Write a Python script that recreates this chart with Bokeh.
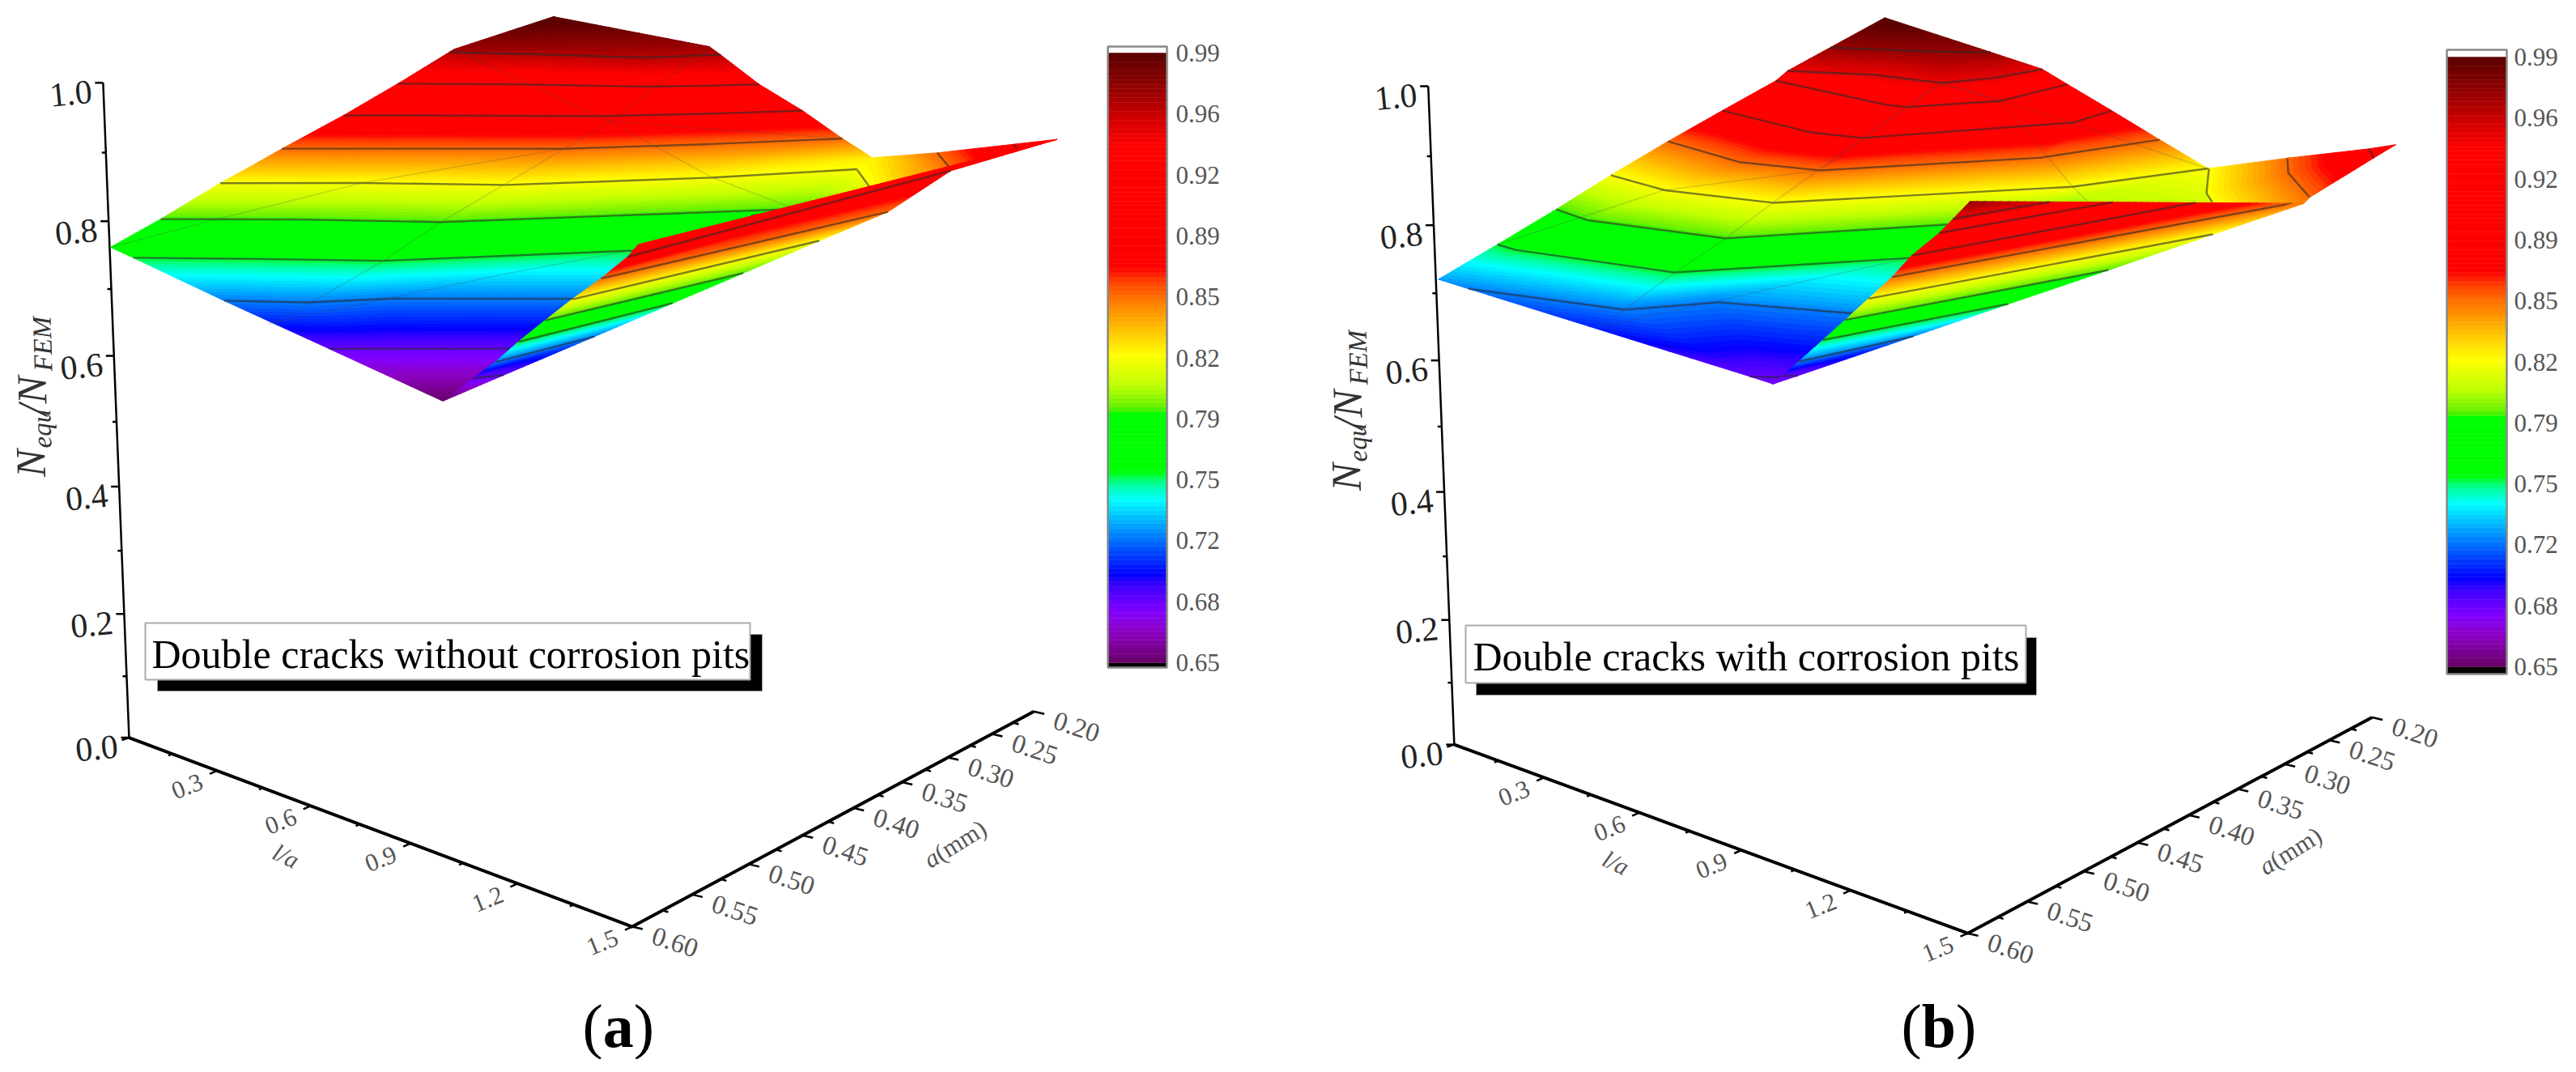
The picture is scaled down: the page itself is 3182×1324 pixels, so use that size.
import numpy as np
from bokeh.plotting import figure
from bokeh.core.properties import value
from bokeh.embed import file_html
from bokeh.resources import INLINE

# ---------- axis / legend values ----------
LA_TICKS = [0.3, 0.6, 0.9, 1.2, 1.5]
LA_MINOR = [0.15, 0.45, 0.75, 1.05, 1.35]
A_TICKS = [0.60, 0.55, 0.50, 0.45, 0.40, 0.35, 0.30, 0.25, 0.20]
A_MINOR = [0.575, 0.525, 0.475, 0.425, 0.375, 0.325, 0.275, 0.225]
Z_TICKS = [0.0, 0.2, 0.4, 0.6, 0.8, 1.0]
Z_MINOR = [0.1, 0.3, 0.5, 0.7, 0.9]
BAR_LABELS = ["0.99", "0.96", "0.92", "0.89", "0.85", "0.82", "0.79", "0.75", "0.72", "0.68", "0.65"]
TITLE_A = "Double cracks without corrosion pits"
TITLE_B = "Double cracks with corrosion pits"
CONTOURS_A = [0.685, 0.72, 0.755, 0.79, 0.82, 0.855, 0.89, 0.925, 0.96]
CONTOURS_B = [0.685, 0.72, 0.755, 0.79, 0.82, 0.855, 0.89, 0.925, 0.945, 0.97]

# ---------- panel (a) surface samples: l/a, a (mm), Nequ/NFEM ----------
AM_L = [[1.016]*5, [.692,.774,.861,.948,1.026], [.375,.516,.619,.891,1.03], [.087,.287,.507,.827,1.029],
        [.017,.257,.479,.802,1.032], [-.001,.234,.48,.964,1.078], [-.061,.174,.434,.721,.902],
        [-.068,.122,.378,.665,.863], [-.084,.163,.4,.612,.792], [-.109,.112,.349,.536,.653],
        [-.146,.083,.33,.439,.513], [-.202,.017,.228,.275,.33], [-.167,-.046,.033,.167,.264], [-.253]*5]
AM_A = [[.605]*5, [.603,.583,.563,.542,.523], [.602,.574,.536,.471,.438], [.602,.558,.512,.394,.345],
        [.603,.551,.504,.385,.325], [.561,.505,.456,.278,.241], [.5,.441,.386,.278,.189],
        [.475,.428,.37,.259,.156], [.443,.381,.322,.242,.165], [.383,.327,.271,.205,.159],
        [.323,.269,.221,.187,.158], [.258,.22,.188,.164,.138], [.263,.231,.195,.16,.128], [.135]*5]
AM_N = [[.65]*5, [.685]*5, [.72]*5, [.755]*5, [.7645]*5, [.79,.79,.79,.79,.815], [.82]*5,
        [.836,.836,.836,.836,.825], [.855]*5, [.89]*5, [.925]*5, [.96]*5, [.968]*5, [.995]*5]
AW_L = [[.908,1.101], [.859,1.101], [1.088,1.242], [1.467,1.467]]
AW_A = [[.192,.25], [.153,.25], [.173,.221], [.199,.199]]
AW_N = [[.82,.82], [.825,.82], [.855,.855], [.91,.91]]
AF_L = [[1.016,1.016],[1.079,1.106],[1.168,1.169],[1.238,1.24],[1.308,1.318],[1.362,1.366],[1.442,1.445],[1.518,1.428],[1.558,1.467]]
AF_A = [[.6041,.6041],[.6,.5843],[.6087,.5315],[.6121,.4893],[.6131,.4551],[.6097,.4032],[.6131,.3685],[.6177,.2989],[.6231,.1985]]
AF_N = [[.65,.65],[.685,.685],[.72,.72],[.755,.755],[.79,.79],[.82,.82],[.855,.855],[.89,.89],[.91,.91]]
AG_L = [[.384,-.237],[.384,.224],[.384,.4,.463,.497,.507,.523],[.384,.754,1.004],[.384,.855],[.02,.091,.174,.4],[.861,.727,.518]]
AG_A = [[.2725,.2433],[.2725,.1148],[.2725,.3217,.4516,.5091,.5688,.603],[.2725,.2898,.293],[.2725,.1888],[.6039,.5388,.4413,.3217],[.4045,.4776,.6043]]
AG_N = [[.884,.96],[.884,.963],[.884,.855,.787,.753,.717,.702],[.884,.826,.798],[.884,.866],[.765,.79,.82,.855],[.762,.741,.702]]

# ---------- panel (b) surface samples ----------
BM_L = [[1.022]*5, [.969,.986,1.003,1.018,1.029], [.121,.526,.628,.904,1.049], [.031,.505,.61,.888,1.058],
        [.009,.086,.521,.804,1.057], [.007,.158,.533,.798,1.182], [-.033,.204,.495,.88,.979],
        [-.044,.288,.501,.775,.837], [-.038,.349,.493,.725,.686], [-.032,.431,.495,.602,.558],
        [.02,.225,.441,.487,.481], [0,.107,.226,.304,.364], [-.093]*5]
BM_A = [[.608]*5, [.61,.607,.604,.601,.597], [.604,.585,.538,.512,.474], [.605,.582,.535,.509,.465],
        [.554,.558,.544,.429,.35], [.506,.518,.506,.394,.273], [.45,.466,.455,.302,.197],
        [.397,.425,.416,.298,.196], [.349,.379,.375,.247,.192], [.3,.335,.335,.279,.194],
        [.304,.282,.284,.247,.194], [.256,.245,.232,.22,.209], [.172]*5]
BM_N = [[.68]*5, [.685]*5, [.72]*5, [.7255]*5, [.755]*5, [.79,.79,.79,.79,.81], [.82]*5, [.855]*5,
        [.89]*5, [.925]*5, [.945]*5, [.97]*5, [.995]*5]
BW_L = [[.981,1.159,1.23], [1.211,1.318,1.513], [1.449,1.481,1.52], [1.559]*3]
BW_A = [[.197,.27,.292], [.205,.249,.309], [.219,.23,.245], [.239]*3]
BW_N = [[.82]*3, [.855]*3, [.89]*3, [.91]*3]
BX_L = [[1.23,1.513], [1.519,1.519]]
BX_A = [[.292,.309], [.317,.317]]
BX_N = [[.82,.855], [.85,.85]]
BF_L = [[1.025,1.025],[1.014,1.037],[1.105,1.138],[1.17,1.246],[1.242,1.352],[1.289,1.432],[1.358,1.521],[1.426,1.523],[1.501,1.561],[1.581,1.581]]
BF_A = [[.609,.609],[.598,.593],[.612,.532],[.613,.488],[.618,.438],[.615,.371],[.619,.33],[.626,.426],[.63,.514],[.634,.634]]
BF_N = [[.68,.68],[.685,.685],[.72,.72],[.755,.755],[.79,.79],[.82,.82],[.855,.855],[.89,.89],[.925,.925],[.97,.97]]
BY_L = [[1.432,1.521], [1.519,1.519]]
BY_A = [[.371,.33], [.317,.317]]
BY_N = [[.82,.855], [.85,.85]]
BG_L = [[.441,.095],[.441,.555],[.441,.468,.473,.47,.481,.536,.568],[.441,.628,.955,1.014],[.441,.806,1.16],[.101,.267,.501,.441],[.813,.572]]
BG_A = [[.284,.326],[.284,.22],[.284,.367,.449,.488,.533,.587,.615],[.284,.287,.329,.332],[.284,.277,.27],[.575,.484,.416,.284],[.432,.61]]
BG_N = [[.945,.955],[.945,.956],[.945,.886,.816,.778,.747,.722,.712],[.945,.929,.835,.814],[.945,.904,.857],[.771,.831,.855,.945],[.757,.713]]

# ---------- colour scale ----------
CMAP_V = [.65,.651,.667,.679,.6926,.6995,.725,.741,.75,.757,.7905,.7915,.805,.8215,.84,.854,.863,.870,.939,.955,.9688,.99]
CMAP_H = ["#660066","#6a006a","#8c00c0","#8000ff","#4000ff","#0000ff","#0099ff","#00ffff","#00ff99","#00ff00",
          "#00ff00","#60f000","#c0ff00","#ffff00","#ffb000","#ff7000","#ff4000","#ff0000","#ff0000","#cc0000","#990000","#5a0000"]
CMAP_RGB = np.array([[int(h[i:i+2], 16) for i in (1, 3, 5)] for h in CMAP_H], float)
N_BANDS = 136
EDGES = np.linspace(.65, .99, N_BANDS + 1)

def band_color(v):
    c = [int(round(np.interp(v, CMAP_V, CMAP_RGB[:, k]))) for k in range(3)]
    return "#%02x%02x%02x" % tuple(c)

BAND_COL = [band_color(.5 * (EDGES[i] + EDGES[i + 1])) for i in range(N_BANDS)]

# ---------- camera calibration of the drawn axes (screen pixels) ----------
CAL_A = dict(z=[(128,102),(132,272),(140,440),(147,600),(154,758),(159,910)],
             l=[(159,910),(266,952),(384,996),(507,1041),(638,1090),(779,1143)],
             a=[(779,1143),(857,1104),(926,1069),(991,1031),(1054,998),(1114,966),(1168,937),(1225,906),(1277,876)])
CAL_B = dict(z=[(1765,106),(1770,278),(1776,444),(1783,607),(1790,766),(1796,918)],
             l=[(1796,918),(1908,961),(2024,1004),(2151,1051),(2283,1099),(2429,1151)],
             a=[(2429,1151),(2509,1112),(2575,1076.5),(2638,1041),(2703,1007),(2762,974),(2821,944),(2879,914),(2929,884)])

def fit_camera(C):
    R = []
    def add(l, a, z, X, Y):
        u = [l, a, z, 1]
        X /= 1000; Y /= 1000
        R.append(u + [0, 0, 0, 0] + [-X * v for v in u])
        R.append([0, 0, 0, 0] + u + [-Y * v for v in u])
    for t, (X, Y) in zip([1, .8, .6, .4, .2, 0], C['z']): add(0, .6, t, X, Y)
    for t, (X, Y) in zip([0, .3, .6, .9, 1.2, 1.5], C['l']): add(t, .6, 0, X, Y)
    for t, (X, Y) in zip(A_TICKS, C['a']): add(1.5, t, 0, X, Y)
    return np.linalg.svd(np.array(R))[2][-1].reshape(3, 4)

def project(P, l, a, z):
    u = np.array([l, a, z, 1.0])
    q = P @ u
    return 1000 * q[0] / q[2], 1000 * q[1] / q[2]

# ---------- figure: one data unit = one picture pixel ----------
p = figure(width=3166, height=1308, x_range=(0, 3166), y_range=(1308, 0),
           toolbar_location=None, output_backend="svg", min_border=0, background_fill_color="white")
p.axis.visible = False
p.grid.visible = False
p.outline_line_color = None
SERIF = value("Liberation Serif")

def clip_band(poly, lo, hi):
    def clip(poly, lim, keep_above):
        out = []
        n = len(poly)
        for i in range(n):
            A, B = poly[i], poly[(i + 1) % n]
            ina = A[2] >= lim if keep_above else A[2] <= lim
            inb = B[2] >= lim if keep_above else B[2] <= lim
            if ina:
                out.append(A)
            if ina != inb:
                t = (lim - A[2]) / (B[2] - A[2])
                out.append((A[0] + t * (B[0] - A[0]), A[1] + t * (B[1] - A[1]), lim))
        return out
    r = clip(poly, lo, True)
    return clip(r, hi, False) if len(r) >= 3 else []

def triangles(P, L, A, N):
    pts = [[(*project(P, L[i][j], A[i][j], N[i][j]), N[i][j]) for j in range(len(L[i]))] for i in range(len(L))]
    tris = []
    for i in range(len(pts) - 1):
        for j in range(len(pts[i]) - 1):
            a, b, c, d = pts[i][j], pts[i][j + 1], pts[i + 1][j + 1], pts[i + 1][j]
            for t in ((a, b, c), (a, c, d)):
                area = abs((t[1][0]-t[0][0])*(t[2][1]-t[0][1]) - (t[2][0]-t[0][0])*(t[1][1]-t[0][1]))
                if area > 0.5:
                    tris.append(t)
    return tris

def contour_segments(tris, levels, shift):
    segx, segy = [], []
    for lv in levels:
        lim = lv + shift
        for t in tris:
            cross = []
            for i in range(3):
                A, B = t[i], t[(i + 1) % 3]
                if (A[2] >= lim) != (B[2] >= lim):
                    s = (lim - A[2]) / (B[2] - A[2])
                    cross.append((A[0] + s * (B[0] - A[0]), A[1] + s * (B[1] - A[1])))
            if len(cross) == 2 and abs(cross[0][0]-cross[1][0]) + abs(cross[0][1]-cross[1][1]) > 0.5:
                segx.append([cross[0][0], cross[1][0]])
                segy.append([cross[0][1], cross[1][1]])
    return segx, segy

def draw_sheet(P, L, A, N, levels, shift=-1e-4):
    tris = triangles(P, L, A, N)
    xs, ys, cols = [], [], []
    for t in tris:
        zs = [v[2] for v in t]
        for b in range(N_BANDS):
            lo = EDGES[b] if b > 0 else -1
            hi = EDGES[b + 1] if b < N_BANDS - 1 else 2
            if max(zs) < lo or min(zs) > hi:
                continue
            poly = clip_band(list(t), lo, hi)
            if len(poly) >= 3:
                xs.append([v[0] for v in poly]); ys.append([v[1] for v in poly]); cols.append(BAND_COL[b])
    p.patches(xs, ys, fill_color=cols, line_color=cols, line_width=1)
    sx, sy = contour_segments(tris, levels, shift)
    if sx:
        p.multi_line(sx, sy, line_color="#2a2a2a", line_alpha=0.6, line_width=2.4)

def draw_mesh(P, L, A, N):
    xs, ys = [], []
    for l, a, n in zip(L, A, N):
        q = [project(P, *v) for v in zip(l, a, n)]
        xs.append([v[0] for v in q]); ys.append([v[1] for v in q])
    p.multi_line(xs, ys, line_color="#444444", line_alpha=0.2, line_width=1.5)

def draw_axes(P):
    top = project(P, 0, .6, 1); o = project(P, 0, .6, 0); c = project(P, 1.5, .6, 0); e = project(P, 1.5, .2, 0)
    p.line([top[0], o[0]], [top[1], o[1]], line_color="black", line_width=2.5)
    p.line([o[0], c[0], e[0]], [o[1], c[1], e[1]], line_color="black", line_width=4)
    tx, ty = [], []
    def tick(q, dx, dy):
        tx.append([q[0], q[0] + dx]); ty.append([q[1], q[1] + dy])
    for v in Z_TICKS: tick(project(P, 0, .6, v), -10, 0)
    for v in Z_MINOR: tick(project(P, 0, .6, v), -5, 0)
    tick(o, -9, 3)
    for v in LA_TICKS: tick(project(P, v, .6, 0), -9, 4)
    for v in LA_MINOR: tick(project(P, v, .6, 0), -5, 2)
    for v in A_TICKS: tick(project(P, 1.5, v, 0), 13, 3)
    for v in A_MINOR: tick(project(P, 1.5, v, 0), 7, 2)
    p.multi_line(tx, ty, line_color="black", line_width=2.5)
    q = [project(P, 0, .6, v) for v in Z_TICKS]
    p.text([v[0] - 40 for v in q], [v[1] + 13 for v in q], text=["%.1f" % v for v in Z_TICKS], text_font=SERIF,
           text_font_size="42px", text_color="#222222", text_align="center", text_baseline="middle", angle=0.1)
    q = [project(P, v, .6, 0) for v in LA_TICKS]
    p.text([v[0] - 37 for v in q], [v[1] + 19 for v in q], text=["%.1f" % v for v in LA_TICKS], text_font=SERIF,
           text_font_size="31px", text_color="#555555", text_align="center", text_baseline="middle", angle=0.38)
    q = [project(P, 1.5, v, 0) for v in A_TICKS]
    p.text([v[0] + 53 for v in q], [v[1] + 19 for v in q], text=["%.2f" % v for v in A_TICKS], text_font=SERIF,
           text_font_size="33px", text_color="#555555", text_align="center", text_baseline="middle", angle=-0.32)
    q = project(P, .75, .6, 0)
    p.text([q[0] - 91], [q[1] + 39], text=["l/a"], text_font=SERIF, text_font_style="italic", text_font_size="30px",
           text_color="#555555", text_align="center", text_baseline="middle", angle=-0.45)
    q = project(P, 1.5, .4, 0)
    p.text([q[0] + 96], [q[1] + 62], text=["a"], text_font=SERIF, text_font_style="italic", text_font_size="31px",
           text_color="#555555", text_align="center", text_baseline="middle", angle=0.55)
    p.text([q[0] + 132], [q[1] + 40], text=["(mm)"], text_font=SERIF, text_font_size="31px",
           text_color="#555555", text_align="center", text_baseline="middle", angle=0.55)

def draw_ztitle(dx, dy):
    col = "#333333"; ang = 1.6
    for s, x, y, fs in [("N", 38, 589, 52), ("equ", 52, 553, 33), ("/N", 40, 513, 52), ("FEM", 53, 458, 33)]:
        p.text([x + dx], [y + dy], text=[s], text_font=SERIF, text_font_style="italic", text_font_size="%dpx" % fs,
               text_color=col, text_align="left", text_baseline="alphabetic", angle=ang)

def draw_box(title, x0, x1, y0, y1, sdx, sdy, tx, ty):
    p.quad(left=[x0 + sdx], right=[x1 + sdx], top=[y0 + sdy], bottom=[y1 + sdy], fill_color="black", line_color="#999999", line_width=1)
    p.quad(left=[x0], right=[x1], top=[y0], bottom=[y1], fill_color="white", line_color="#aaaaaa", line_width=2)
    p.text([tx], [ty], text=[title], text_font=SERIF, text_font_size="50px", text_color="black",
           text_align="left", text_baseline="middle")

def draw_bar(x0, x1, ytop, ybot, yframe0, yframe1, lx):
    ys = ybot + (EDGES - .65) / .34 * (ytop - ybot)
    p.quad(left=[x0], right=[x1], top=[ybot], bottom=[yframe1], fill_color="black", line_color=None)
    p.quad(left=[x0] * N_BANDS, right=[x1] * N_BANDS, top=list(ys[1:]), bottom=list(ys[:-1]),
           fill_color=BAND_COL, line_color=BAND_COL, line_width=0.5)
    p.quad(left=[x0], right=[x1], top=[yframe0], bottom=[yframe1], fill_color=None, line_color="#888888", line_width=2.5)
    step = (ybot - ytop) / (len(BAR_LABELS) - 1)
    p.text([lx] * len(BAR_LABELS), [ytop + i * step for i in range(len(BAR_LABELS))], text=BAR_LABELS, text_font=SERIF,
           text_font_size="31px", text_color="#555555", text_align="left", text_baseline="middle")

def draw_caption(ch, x0, y):
    fs = 76
    adv = 0.333 * fs
    ca = 0.5 * fs if ch == "a" else 0.556 * fs
    for s, x, st in [("(", x0, "normal"), (ch, x0 + adv, "bold"), (")", x0 + adv + ca, "normal")]:
        p.text([x], [y], text=[s], text_font=SERIF, text_font_style=st, text_font_size="%dpx" % fs, text_color="black",
               text_align="left", text_baseline="middle")

PA = fit_camera(CAL_A)
PB = fit_camera(CAL_B)

# panel (a)
draw_axes(PA)
draw_ztitle(0, 0)
draw_sheet(PA, AM_L, AM_A, AM_N, CONTOURS_A)
draw_mesh(PA, AG_L, AG_A, AG_N)
draw_sheet(PA, AW_L, AW_A, AW_N, CONTOURS_A, shift=1e-4)
draw_sheet(PA, AF_L, AF_A, AF_N, CONTOURS_A)
draw_box(TITLE_A, 179, 926, 769, 839, 15, 14, 187, 807)
draw_bar(1368, 1441, 65, 818, 57, 824, 1452)
draw_caption("a", 719, 1266)

# panel (b)
draw_axes(PB)
draw_ztitle(1625, 17)
draw_sheet(PB, BM_L, BM_A, BM_N, CONTOURS_B)
draw_mesh(PB, BG_L, BG_A, BG_N)
draw_sheet(PB, BW_L, BW_A, BW_N, CONTOURS_B, shift=1e-4)
draw_sheet(PB, BX_L, BX_A, BX_N, [])
draw_sheet(PB, BF_L, BF_A, BF_N, CONTOURS_B)
draw_sheet(PB, BY_L, BY_A, BY_N, [])
draw_box(TITLE_B, 1810, 2502, 772, 843, 13, 15, 1819, 810)
draw_bar(3022, 3096, 70, 823, 61, 832, 3105)
draw_caption("b", 2348, 1266)

open("out.html", "w").write(file_html(p, INLINE))
